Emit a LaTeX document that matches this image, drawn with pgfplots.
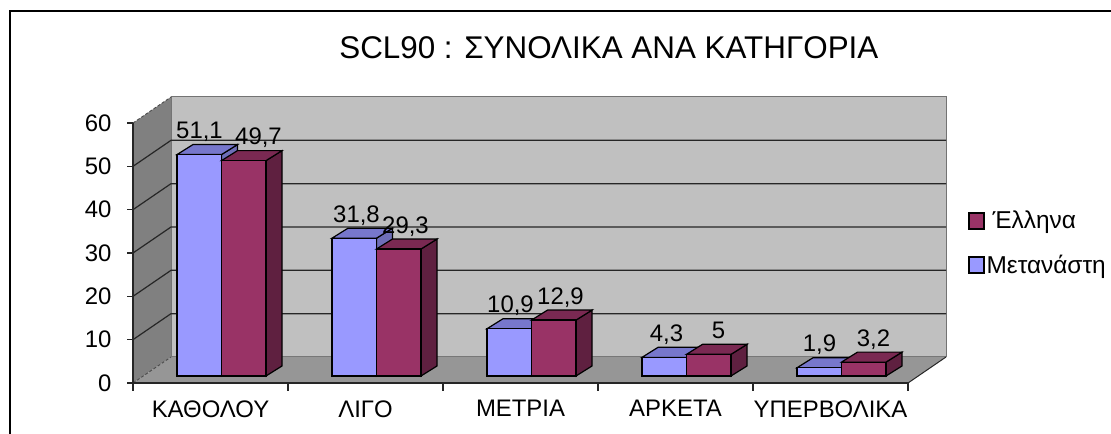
\documentclass[border=0pt]{standalone}
\usepackage{pgfplots}
\usepackage{pgfplotstable}
\pgfplotsset{compat=1.18}
\usepackage{fontspec}
\setmainfont{Liberation Sans}

\definecolor{blueF}{HTML}{9999FF}
\definecolor{blueT}{HTML}{7777CC}
\definecolor{blueS}{HTML}{6E6EB8}
\definecolor{redF}{HTML}{993366}
\definecolor{redT}{HTML}{7A2952}
\definecolor{redS}{HTML}{5F2040}
\definecolor{wallB}{HTML}{C0C0C0}
\definecolor{wallS}{HTML}{808080}
\definecolor{floorC}{HTML}{969696}

% bdx, rdx: sideways offset of the value labels, in bp from the group centre
\pgfplotstableread{
cat pos  blue red  bdx rdx
0   0.5  51.1 49.7 -22 37
1   1.5  31.8 29.3 -20 29
2   2.5  10.9 12.9 -21 29
3   3.5  4.3  5    -20 32
4   4.5  1.9  3.2  -22 32
}\scldata

% bar width and depth in axis units
\def\bw{0.2871}
\def\ddx{0.1032}
\def\ddy{2.31}
\newcommand{\barfaces}[4]{%
  \pgfmathsetmacro\xa{#1}\pgfmathsetmacro\xb{#1+\bw}%
  \pgfmathsetmacro\xc{\xb+\ddx}\pgfmathsetmacro\xd{\xa+\ddx}%
  \pgfmathsetmacro\yt{#2+\ddy}\pgfmathsetmacro\yb{\ddy}%
  \edef\temp{\noexpand\addplot[forget plot,fill=#3,draw=black,line width=1.2bp]
    coordinates {(\xb,0)(\xc,\yb)(\xc,\yt)(\xb,#2)} --cycle;}\temp
  \edef\temp{\noexpand\addplot[forget plot,fill=#4,draw=black,line width=1.2bp]
    coordinates {(\xa,#2)(\xb,#2)(\xc,\yt)(\xd,\yt)} --cycle;}\temp
}

\pgfplotsset{
  common/.style={
    scale only axis, x=155bp, y=4.3333bp,
    xmin=0, xmax=5, ymin=0, ymax=60,
    clip=false, anchor=south west,
  },
  /pgf/number format/assume math mode=true,
  /pgf/number format/use comma,
  barlabels/.style={
    nodes near coords={\pgfmathprintnumber[fixed,precision=1,use comma]{\pgfplotspointmeta}},
    every node near coord/.append style={anchor=base,inner sep=0pt,
      font=\fontsize{24}{26}\selectfont,xshift=\labdx bp,yshift=16bp},
  },
}

\begin{document}
\begin{tikzpicture}[x=1bp,y=1bp]
\useasboundingbox (0,0) rectangle (1111,434);

% walls, floor, axes
\begin{axis}[common, at={(133bp,51bp)},
    axis x line*=bottom, axis y line*=left,
    axis on top,
    axis line style={black!85,line width=1.2bp},
    xtick={0.5,1.5,2.5,3.5,4.5},
    xticklabels={ΚΑΘΟΛΟΥ,ΛΙΓΟ,ΜΕΤΡΙΑ,ΑΡΚΕΤΑ,ΥΠΕΡΒΟΛΙΚΑ},
    minor xtick={0,1,2,3,4,5},
    ytick={0,10,20,30,40,50,60},
    tick align=outside,
    major tick length=6bp, minor tick length=8bp,
    major x tick style={draw=none},
    tick style={black!85,line width=1.1bp},
    minor tick style={black!85,line width=1.1bp},
    tick label style={font=\fontsize{24}{26}\selectfont},
    every x tick label/.append style={yshift=-8bp},
    yticklabel style={xshift=-12bp},
    title={SCL90 : ΣΥΝΟΛΙΚΑ ΑΝΑ ΚΑΤΗΓΟΡΙΑ},
    title style={at={(0.614,1.265)},anchor=center,font=\fontsize{31.5}{34}\selectfont},
  ]
  \addplot[forget plot,fill=wallB,draw=black!55,line width=1bp]
    coordinates {(0.2452,6)(5.2452,6)(5.2452,66)(0.2452,66)} --cycle;
  \addplot[forget plot,fill=wallS,draw=none]
    coordinates {(0,0)(0.2452,6)(0.2452,66)(0,60)} --cycle;
  \addplot[forget plot,fill=floorC,draw=none]
    coordinates {(0,0)(5,0)(5.2452,6)(0.2452,6)} --cycle;
  % grid on the back wall and side wall
  \pgfplotsinvokeforeach{10,20,30,40,50}{
    \addplot[forget plot,black!85,line width=1.2bp]
      coordinates {(0,#1)(0.2452,#1+6)(5.2452,#1+6)};
  }
  \addplot[forget plot,black!85,line width=1bp]
    coordinates {(5,0)(5.2452,6)};
  \addplot[forget plot,black!70,line width=0.9bp,densely dashed]
    coordinates {(0,60)(0.2452,66)};
  \addplot[forget plot,black!70,line width=0.9bp,densely dashed]
    coordinates {(0,0)(0.2452,6)};
\end{axis}

% bars, moved forward on the floor
\begin{axis}[common, at={(144bp,58bp)}, hide axis,
    reverse legend,
    legend style={at={(1.059,0.65)},anchor=north west,draw=none,fill=none,
      font=\fontsize{24.5}{26}\selectfont,row sep=21bp,
      /tikz/every even column/.append style={column sep=2bp}},
    legend cell align=left,
    legend image code/.code={\draw[#1,line width=1.6bp,draw=black]
      (0bp,-8bp) rectangle (15bp,8bp);},
  ]
  \pgfplotsinvokeforeach{0,1,2,3,4}{
    \pgfplotstablegetelem{#1}{blue}\of\scldata
    \barfaces{#1+0.5-\bw}{\pgfplotsretval}{blueS}{blueT}
  }
  \addplot[ybar,bar width=44.5bp,bar shift=-22.25bp,fill=blueF,draw=black,line width=1.2bp,
      visualization depends on={\thisrow{bdx} \as \labdx},barlabels]
    table[x=pos,y=blue] {\scldata};
  \addlegendentry{Μετανάστη}
  \pgfplotsinvokeforeach{0,1,2,3,4}{
    \pgfplotstablegetelem{#1}{red}\of\scldata
    \barfaces{#1+0.5}{\pgfplotsretval}{redS}{redT}
  }
  \addplot[ybar,bar width=44.5bp,bar shift=22.25bp,fill=redF,draw=black,line width=1.2bp,
      visualization depends on={\thisrow{rdx} \as \labdx},barlabels]
    table[x=pos,y=red] {\scldata};
  \addlegendentry{\hspace{6bp}Έλληνα}
\end{axis}

% chart frame
\draw[black,line width=2.4bp] (10,0) -- (10,423) -- (1111,423);
\end{tikzpicture}
\end{document}
